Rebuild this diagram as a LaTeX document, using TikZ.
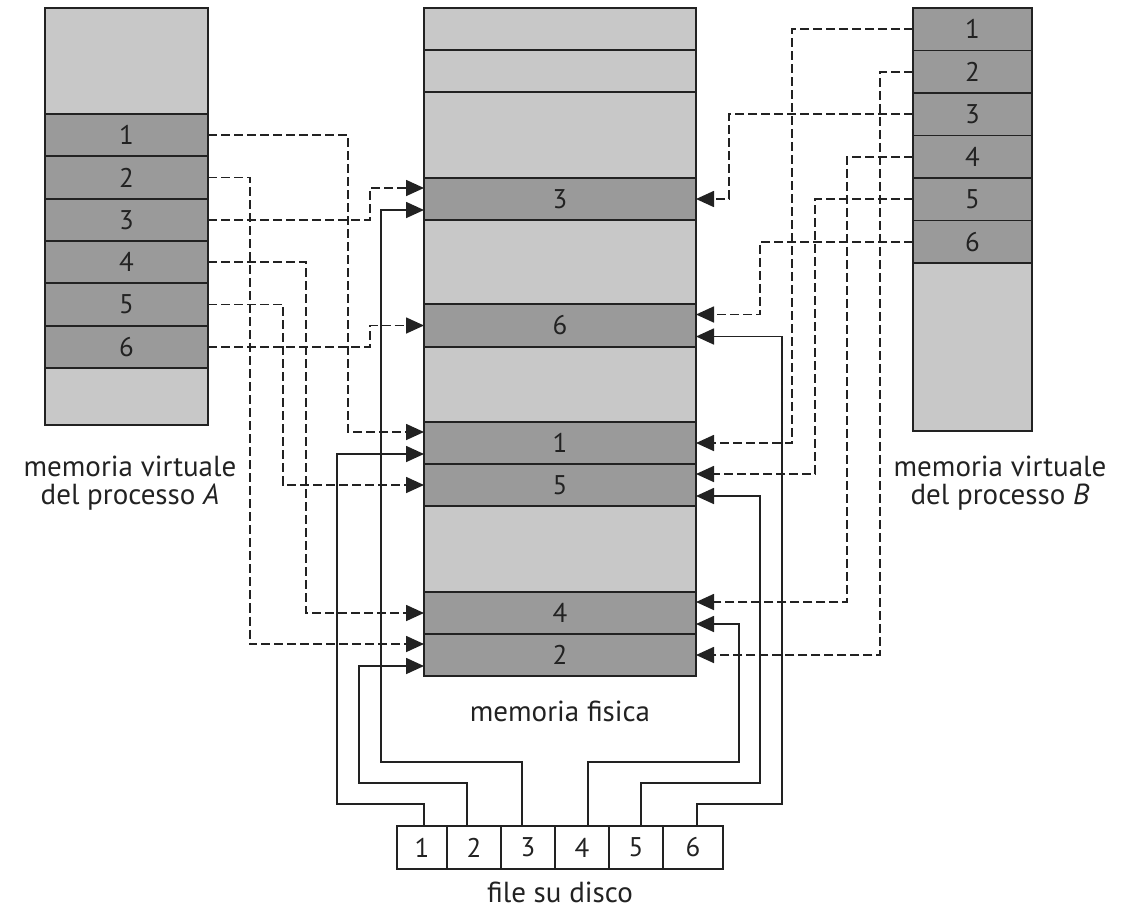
\documentclass[tikz,border=0pt]{standalone}
\usepackage{fontspec}
\setmainfont{PT Sans}
\usepackage{xcolor}
\usepackage{tikz}
\usetikzlibrary{arrows.meta}

\definecolor{grigiochiaro}{HTML}{C8C8C8}
\definecolor{grigioscuro}{HTML}{9A9A9A}
\definecolor{tratto}{HTML}{222222}

\tikzset{
    cella/.style={draw=tratto, line width=1.8pt, inner sep=0pt, outer sep=0pt,
        text=tratto, font=\fontsize{27}{27}\selectfont},
    libera/.style={cella, fill=grigiochiaro},
    pagina/.style={cella, fill=grigioscuro},
    blocco/.style={cella, fill=white},
    punta/.style={draw=tratto, line width=1.7pt, -{Triangle[length=18pt,width=16pt]}},
    virtuale/.style={punta, dash pattern=on 9pt off 4pt},
    disco/.style={punta},
    etichetta/.style={align=center, text=tratto, font=\fontsize{29}{28}\selectfont}
}

\begin{document}
\begin{tikzpicture}[x=1pt, y=-1pt]
        \useasboundingbox (0, 0) rectangle (1132, 908);

        % memoria virtuale del processo A
        \node[libera, minimum width=163pt, minimum height=106pt] (aSopra) at (126.5, 61) {};
        \foreach \i in {1,...,6}
            \node[pagina, minimum width=163pt, minimum height=42.33pt] (a\i) at (126.5, {92.83 + 42.33*\i}) {\i};
        \node[libera, minimum width=163pt, minimum height=57pt] (aSotto) at (126.5, 396.5) {};

        % memoria virtuale del processo B
        \foreach \i in {1,...,6}
            \node[pagina, minimum width=119pt, minimum height=42.5pt] (b\i) at (972.5, {-13.25 + 42.5*\i}) {\i};
        \node[libera, minimum width=119pt, minimum height=168pt] (bSotto) at (972.5, 347) {};

        % memoria fisica
        \node[libera, minimum width=272pt, minimum height=42pt] (mA) at (560, 29) {};
        \node[libera, minimum width=272pt, minimum height=42pt] (mB) at (560, 71) {};
        \node[libera, minimum width=272pt, minimum height=86pt] (mC) at (560, 135) {};
        \node[pagina, minimum width=272pt, minimum height=42pt] (m3) at (560, 199) {3};
        \node[libera, minimum width=272pt, minimum height=84pt] (mD) at (560, 262) {};
        \node[pagina, minimum width=272pt, minimum height=43pt] (m6) at (560, 325.5) {6};
        \node[libera, minimum width=272pt, minimum height=75pt] (mE) at (560, 384.5) {};
        \node[pagina, minimum width=272pt, minimum height=42pt] (m1) at (560, 443) {1};
        \node[pagina, minimum width=272pt, minimum height=42pt] (m5) at (560, 485) {5};
        \node[libera, minimum width=272pt, minimum height=86pt] (mF) at (560, 549) {};
        \node[pagina, minimum width=272pt, minimum height=42pt] (m4) at (560, 613) {4};
        \node[pagina, minimum width=272pt, minimum height=42pt] (m2) at (560, 655) {2};
        \draw[draw=tratto, line width=2.8pt] (m6.north west) -- (m6.north east);

        % file su disco
        \foreach \i/\xa/\xb in {1/397/447, 2/447/501, 3/501/555, 4/555/609, 5/609/663, 6/663/723}
            \node[blocco, minimum width={(\xb-\xa)*1pt}, minimum height=43pt] (f\i) at ({(\xa+\xb)/2}, 847.5) {\i};

        % etichette
        \node[etichetta] (etA) at (130, 483) {memoria virtuale\\del processo \textit{A}};
        \node[etichetta] (etB) at (1000, 483) {memoria virtuale\\del processo \textit{B}};
        \node[etichetta] (etM) at (560, 711) {memoria fisica};
        \node[etichetta] (etF) at (560, 892) {file su disco};

        % pagine di A
        \draw[virtuale] (a1.east) -- ++(140, 0) |- ([yshift=11pt]m1.west);
        \draw[virtuale] (a2.east) -- ++(42, 0) |- ([yshift=11pt]m2.west);
        \draw[virtuale] (a3.east) -- ++(162, 0) |- ([yshift=11pt]m3.west);
        \draw[virtuale] (a4.east) -- ++(98, 0) |- (m4.west);
        \draw[virtuale] (a5.east) -- ++(75, 0) |- (m5.west);
        \draw[virtuale] (a6.east) -- ++(162, 0) |- (m6.west);

        % pagine di B
        \draw[virtuale] (b1.west) -- ++(-121, 0) |- (m1.east);
        \draw[virtuale] (b2.west) -- ++(-33, 0) |- (m2.east);
        \draw[virtuale] (b3.west) -- ++(-184, 0) |- (m3.east);
        \draw[virtuale] (b4.west) -- ++(-66, 0) |- ([yshift=11pt]m4.east);
        \draw[virtuale] (b5.west) -- ++(-98, 0) |- ([yshift=11pt]m5.east);
        \draw[virtuale] (b6.west) -- ++(-153, 0) |- ([yshift=11pt]m6.east);

        % blocchi del file
        \draw[disco] ([xshift=2pt]f1.north) |- ++(-87, -22) |- ([yshift=-11pt]m1.west);
        \draw[disco] ([xshift=-7pt]f2.north) |- ++(-108, -43) |- ([yshift=-11pt]m2.west);
        \draw[disco] ([xshift=-6pt]f3.north) |- ++(-141, -64) |- ([yshift=-11pt]m3.west);
        \draw[disco] ([xshift=6pt]f4.north) |- ++(151, -64) |- ([yshift=-11pt]m4.east);
        \draw[disco] ([xshift=5pt]f5.north) |- ++(119, -43) |- ([yshift=-11pt]m5.east);
        \draw[disco] ([xshift=4pt]f6.north) |- ++(85, -22) |- ([yshift=-11pt]m6.east);
    \end{tikzpicture}
\end{document}
